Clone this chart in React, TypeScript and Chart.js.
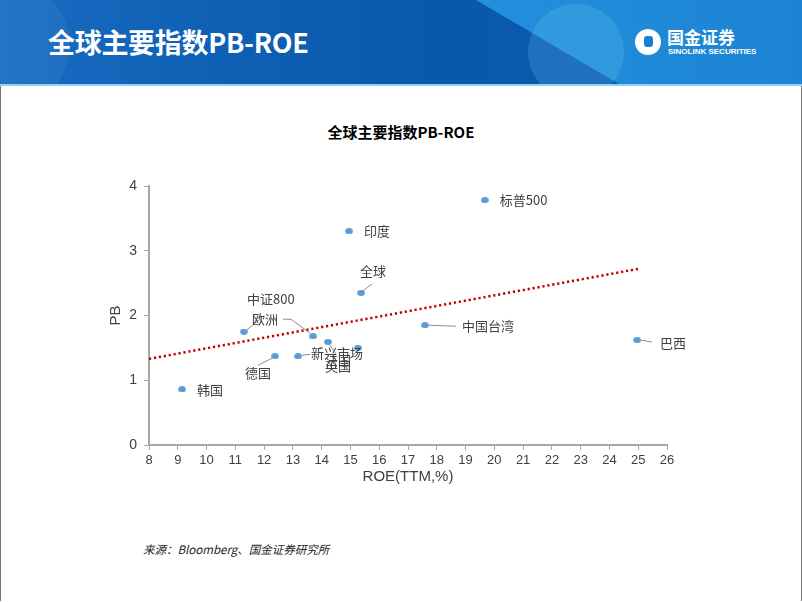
import React, { useEffect, useRef } from "react";
import { Chart, registerables } from "chart.js";

Chart.register(...registerables);

// ---- data ----
const indexNames = ["标普500", "印度", "全球", "中证800", "欧洲", "中国台湾", "巴西", "德国", "新兴市场", "法国", "英国", "韩国"];
const roeValues = [19.67, 14.95, 15.37, 11.3, 13.7, 17.59, 24.96, 12.38, 13.18, 14.22, 15.26, 9.15];
const pbValues = [3.78, 3.3, 2.35, 1.75, 1.68, 1.85, 1.62, 1.37, 1.37, 1.59, 1.5, 0.86];
const trendRoe = [8, 25];
const trendPb = [1.33, 2.72];
const xRange = [8, 26];
const yRange = [0, 4];
const pageTitle = "全球主要指数PB-ROE";
const chartTitle = "全球主要指数PB-ROE";
const xTitle = "ROE(TTM,%)";
const yTitle = "PB";
const sourceText = "来源：Bloomberg、国金证券研究所";

// ---- label layout (offsets relative to each point, px) ----
type LabelLayout = { dx: number; dy: number; align?: CanvasTextAlign; leader?: number[][] };
const labelLayout: LabelLayout[] = [
  { dx: 15, dy: 0 },
  { dx: 15, dy: 0 },
  { dx: -1, dy: -22, leader: [[2, -2], [11, -9]] },
  { dx: 3, dy: -33, leader: [[3, -2], [18, -14]] },
  { dx: -61, dy: -17, leader: [[-30, -17], [-22, -17], [-3, -3]] },
  { dx: 37, dy: 1, leader: [[4, 0], [31, 1]] },
  { dx: 23, dy: 3, leader: [[4, 0], [15, 2]] },
  { dx: -30, dy: 17, leader: [[-3, 2], [-17, 9]] },
  { dx: 13, dy: -3, leader: [[4, -1], [12, -2]] },
  { dx: -3, dy: 18, leader: [[2, 3], [8, 12]] },
  { dx: -33, dy: 18, leader: [[-1, 3], [-8, 11]] },
  { dx: 15, dy: 1 },
];

function makeDot(): HTMLCanvasElement {
  const c = document.createElement("canvas");
  c.width = 8;
  c.height = 6;
  const g = c.getContext("2d")!;
  g.fillStyle = "#5B9BD5";
  g.beginPath();
  g.ellipse(4, 3, 3.9, 2.9, 0, 0, Math.PI * 2);
  g.fill();
  return c;
}

const labelPlugin = {
  id: "pointLabels",
  afterDatasetsDraw(chart: any) {
    const meta = chart.getDatasetMeta(1);
    const ctx = chart.ctx as CanvasRenderingContext2D;
    ctx.save();
    ctx.font = '13px "Noto Sans CJK SC", sans-serif';
    ctx.fillStyle = "#404040";
    ctx.textBaseline = "middle";
    meta.data.forEach((pt: any, i: number) => {
      const L = labelLayout[i];
      if (!L) return;
      const { x, y } = pt.getProps(["x", "y"], true);
      if (L.leader) {
        ctx.beginPath();
        ctx.strokeStyle = "#8c8c8c";
        ctx.lineWidth = 1;
        L.leader.forEach(([lx, ly], k) => (k ? ctx.lineTo(x + lx, y + ly) : ctx.moveTo(x + lx, y + ly)));
        ctx.stroke();
      }
      ctx.textAlign = L.align || "left";
      ctx.fillText(indexNames[i], x + L.dx, y + L.dy);
    });
    ctx.restore();
  },
};

export default function App() {
  const ref = useRef<HTMLCanvasElement>(null);

  useEffect(() => {
    if (!ref.current) return;
    Chart.defaults.font.family = '"Liberation Sans", Arial, sans-serif';
    const axisColor = "#a6a6a6";
    const chart = new Chart(ref.current, {
      type: "scatter",
      data: {
        datasets: [
          {
            type: "line",
            data: trendRoe.map((x, i) => ({ x, y: trendPb[i] })),
            borderColor: "#C00000",
            borderWidth: 2.5,
            borderDash: [2.2, 2.8],
            pointRadius: 0,
            fill: false,
            showLine: true,
          } as any,
          {
            data: roeValues.map((x, i) => ({ x, y: pbValues[i] })),
            pointStyle: makeDot(),
            pointRadius: 4,
            backgroundColor: "#5B9BD5",
            borderColor: "#5B9BD5",
          },
        ],
      },
      options: {
        animation: false,
        responsive: false,
        events: [],
        layout: { padding: { left: 104, right: 135, top: 186, bottom: 116 } },
        plugins: { legend: { display: false }, tooltip: { enabled: false }, title: { display: false } },
        scales: {
          x: {
            type: "linear",
            min: xRange[0],
            max: xRange[1],
            ticks: { stepSize: 1, color: "#404040", font: { size: 13 }, padding: 3 },
            grid: { drawOnChartArea: false, drawTicks: true, tickLength: 5, color: axisColor, lineWidth: 1 },
            border: { color: axisColor, width: 2 },
            title: { display: true, text: xTitle, color: "#404040", font: { size: 15 }, padding: { top: 0, bottom: 0 } },
            afterFit: (s: any) => {
              s.height = 41;
            },
          },
          y: {
            type: "linear",
            min: yRange[0],
            max: yRange[1],
            ticks: { stepSize: 1, color: "#404040", font: { size: 14 }, padding: 7 },
            grid: { drawOnChartArea: false, drawTicks: true, tickLength: 5, color: axisColor, lineWidth: 1 },
            border: { color: axisColor, width: 2 },
            title: { display: true, text: yTitle, color: "#404040", font: { size: 15 }, padding: { top: 3, bottom: 0 } },
            afterFit: (s: any) => {
              s.width = 45;
            },
          },
        },
      },
      plugins: [labelPlugin],
    });
    return () => chart.destroy();
  }, []);

  return (
    <div style={{ position: "fixed", left: 0, top: 0, width: 802, height: 602, overflow: "hidden", background: "#fff", fontFamily: '"Noto Sans CJK SC", sans-serif' }}>
      {/* banner */}
      <div style={{ position: "absolute", left: 0, top: 0, width: 802, height: 84, overflow: "hidden", background: "linear-gradient(90deg, #1a6cc2 0%, #0f61b6 25%, #0a58ad 55%, #0b5db2 100%)" }}>
        <div style={{ position: "absolute", left: -60, top: -20, width: 130, height: 130, borderRadius: "50%", background: "rgba(255,255,255,0.05)" }} />
        <div style={{ position: "absolute", left: 0, top: 0, width: 802, height: 84, clipPath: "polygon(476px 0, 802px 0, 802px 84px, 619px 84px)", background: "linear-gradient(90deg, #3aa6ea 0%, #2795e0 40%, #1b84d3 100%)" }} />
        <div style={{ position: "absolute", left: 528, top: 4, width: 96, height: 96, borderRadius: "50%", background: "rgba(120,210,250,0.2)" }} />
        <div style={{ position: "absolute", left: 48, top: 24, color: "#fff", fontSize: 27, fontWeight: 700, lineHeight: "36px", whiteSpace: "nowrap", letterSpacing: -0.3 }}>{pageTitle}</div>
        <div style={{ position: "absolute", left: 635, top: 29, width: 26, height: 26, borderRadius: "50%", background: "#fff" }}>
          <div style={{ position: "absolute", left: 9, top: 7, width: 9, height: 11, borderRadius: 3, background: "#1a7fd0" }} />
        </div>
        <div style={{ position: "absolute", left: 667, top: 27, color: "#fff", fontSize: 17, fontWeight: 700, lineHeight: "20px", whiteSpace: "nowrap" }}>国金证券</div>
        <div style={{ position: "absolute", left: 668, top: 47, color: "#fff", fontSize: 8, fontWeight: 700, lineHeight: "10px", whiteSpace: "nowrap", fontFamily: '"Liberation Sans", Arial, sans-serif' }}>SINOLINK SECURITIES</div>
      </div>
      <div style={{ position: "absolute", left: 0, top: 84, width: 802, height: 2, background: "#8fd3f3" }} />
      <div style={{ position: "absolute", left: 0, top: 86, width: 800, height: 515, borderLeft: "1px solid #777", borderRight: "1px solid #777" }} />
      <div style={{ position: "absolute", left: 0, top: 121, width: 802, textAlign: "center", fontSize: 15, fontWeight: 700, color: "#000", lineHeight: "22px", whiteSpace: "nowrap" }}>{chartTitle}</div>
      <div style={{ position: "absolute", left: 143, top: 541, fontSize: 11.5, fontStyle: "italic", color: "#222", lineHeight: "16px", whiteSpace: "nowrap" }}>{sourceText}</div>
      <canvas ref={ref} width={802} height={602} style={{ position: "absolute", left: 0, top: 0, width: 802, height: 602 }} />
    </div>
  );
}
